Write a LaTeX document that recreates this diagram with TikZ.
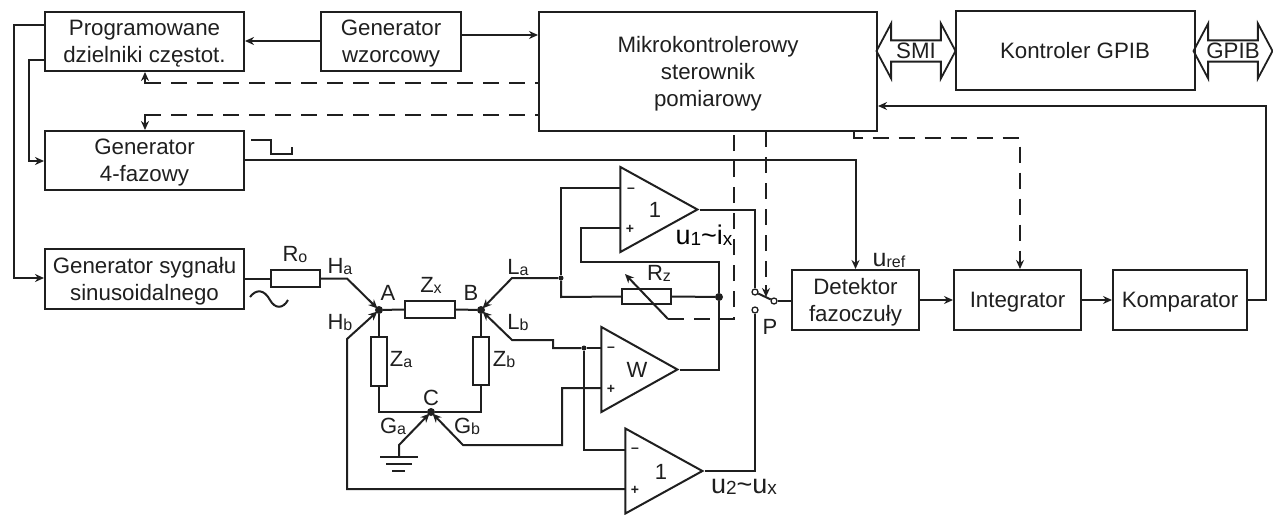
\documentclass[tikz,border=0pt]{standalone}
\usepackage{fontspec}
\setmainfont{Liberation Sans}
\usetikzlibrary{calc,arrows.meta,shapes.geometric,shapes.arrows}
\definecolor{ink}{gray}{0.12}
\newcommand{\lowtext}[2]{#1{\fontsize{16}{16}\selectfont\raisebox{-1pt}{#2}}}
\newcommand{\bigtext}[2]{#1{\fontsize{19}{19}\selectfont\raisebox{-1pt}{#2}}}
\tikzstyle{block}  = [rectangle, draw=ink, line width=2pt, inner sep=0pt, align=center, text=ink, text depth=0pt]
\tikzstyle{res}    = [rectangle, draw=ink, line width=1.8pt, inner sep=0pt]
\tikzstyle{joint}  = [circle, fill=ink, inner sep=0pt, minimum size=8pt]
\tikzstyle{smalldot} = [circle, fill=ink, inner sep=0pt, minimum size=5pt]
\tikzstyle{contact} = [circle, draw=ink, fill=white, line width=1.3pt, inner sep=0pt, minimum size=6pt]
\tikzstyle{lab}    = [inner sep=0pt, text=ink, font=\fontsize{22}{22}\selectfont]
\tikzstyle{biglab} = [inner sep=0pt, text=ink, font=\fontsize{27}{27}\selectfont]
\tikzstyle{sgn}    = [inner sep=0pt, text=ink, font=\fontsize{14}{14}\selectfont\bfseries]
\tikzstyle{amp}    = [isosceles triangle, isosceles triangle stretches, draw=ink, line width=2pt, inner sep=0pt,
                      shape border rotate=0, minimum width=85pt]
\tikzstyle{bus}    = [double arrow, draw=ink, line width=1.8pt, inner sep=0pt, double arrow head extend=14pt,
                      double arrow tip angle=124, minimum width=55pt, text=ink]
\tikzstyle{arrow}  = [line width=2pt, draw=ink, -{Stealth[length=9pt,width=8pt]}]
\tikzstyle{wire}   = [line width=2pt, draw=ink]
\tikzstyle{dashwire} = [line width=2pt, draw=ink, dash pattern=on 16pt off 10pt]

\begin{document}
\begin{tikzpicture}[x=1pt,y=-1pt,font=\fontsize{22.3}{27}\selectfont]
    \useasboundingbox (0,0) rectangle (1273,514);

    % blocks
    \node[block, minimum width=199pt, minimum height=59pt] (prog) at (144.5,41.5) {Programowane\\dzielniki częstot.};
    \node[block, minimum width=140pt, minimum height=59pt] (wzor) at (391,41.5) {Generator\\wzorcowy};
    \node[block, minimum width=338pt, minimum height=119pt] (mikro) at (708,71) {Mikrokontrolerowy\\sterownik\\pomiarowy};
    \node[block, minimum width=239pt, minimum height=79pt] (gpib) at (1075,50.5) {Kontroler GPIB};
    \node[block, minimum width=199pt, minimum height=59pt] (faz) at (144.5,160.5) {Generator\\4-fazowy};
    \node[block, minimum width=199pt, minimum height=60pt] (sin) at (144.5,279) {Generator sygnału\\sinusoidalnego};
    \node[block, minimum width=127pt, minimum height=60pt] (det) at (855.5,300) {Detektor\\fazoczuły};
    \node[block, minimum width=127pt, minimum height=60pt] (integ) at (1017.5,300) {Integrator};
    \node[block, minimum width=134pt, minimum height=60pt] (komp) at (1180,300) {Komparator};

    % buses
    \node[bus, minimum height=79pt] (smi) at (916,51) {SMI};
    \node[bus, minimum height=79pt] (bgpib) at (1233,51) {GPIB};

    % bridge
    \node[res, minimum width=49pt, minimum height=17pt] (ro) at (295.5,278.5) {};
    \node[res, minimum width=50pt, minimum height=17pt] (zx) at (430,309.5) {};
    \node[res, minimum width=16pt, minimum height=49pt] (za) at (379,361.5) {};
    \node[res, minimum width=16pt, minimum height=48pt] (zb) at (481,361) {};
    \node[res, minimum width=49pt, minimum height=15pt] (rz) at (646.5,296.5) {};
    \node[joint] (a) at (379,310) {};
    \node[joint] (b) at (481,310) {};
    \node[joint] (c) at (431,412) {};
    \node[smalldot] (nla) at (561,278) {};
    \node[joint] (nrz) at (719,297) {};
    \node[smalldot] (nlb) at (584,348) {};

    % amplifiers
    \node[amp, minimum height=77pt, anchor=apex] (ampa) at (700,209.5) {};
    \node[amp, minimum height=76pt, anchor=apex] (ampw) at (680,369.5) {};
    \node[amp, minimum height=77pt, anchor=apex] (ampb) at (705,471) {};
    \node[lab] (ta) at (655,210) {1};
    \node[lab] (tw) at (637,370) {W};
    \node[lab] (tb) at (661,472) {1};
    \node[sgn] (ma) at (631,190) {–};
    \node[sgn] (pa) at (630,229) {+};
    \node[sgn] (mw) at (611,349) {–};
    \node[sgn] (pw) at (611,389) {+};
    \node[sgn] (mb) at (635,450) {–};
    \node[sgn] (pb) at (635,490) {+};
    \coordinate (ina) at (620,188);
    \coordinate (ipa) at (620,228);
    \coordinate (inw) at (601,348);
    \coordinate (ipw) at (601,388);
    \coordinate (inb) at (625,450);
    \coordinate (ipb) at (625,489);

    % switch
    \node[contact] (s1) at (755,292) {};
    \node[contact] (s2) at (755,310) {};
    \node[contact] (s0) at (774,301) {};
    \coordinate (gnd) at (399,457);
    \coordinate (rzarrow) at (625,274);
    \coordinate (swmid) at (766,297);

    % solid connections
    \draw[arrow] (wzor.west |- 0,41) -- (prog.east |- 0,41);
    \draw[arrow] (wzor.east |- 0,35) -- (mikro.west |- 0,35);
    \draw[arrow] (prog.west |- 0,60) -- (29,60) -- (29,161) -- (faz.west |- 0,161);
    \draw[arrow] (prog.west |- 0,25) -- (14,25) -- (14,278) -- (sin.west |- 0,278);
    \draw[arrow] (faz.east |- 0,160) -- (det.north |- 0,160) -- (det.north);
    \draw[arrow] (det.east) -- (integ.west);
    \draw[arrow] (integ.east) -- (komp.west);
    \draw[arrow] (komp.east) -- (1266,300) -- (1266,106) -- (mikro.east |- 0,106);
    \draw[wire] (sin.east |- ro.west) -- (ro.west);
    \draw[arrow, shorten >=-2pt] (ro.east) -- (347,278.5) -- (a);
    \draw[arrow, shorten >=-2pt] (ipb) -- (347,489) -- (347,339) -- (a);
    \draw[wire] (a) -- (zx.west);
    \draw[wire] (zx.east) -- (b);
    \draw[wire] (a) -- (za.north);
    \draw[wire] (b) -- (zb.north);
    \draw[wire] (za.south) -- (379,412) -- (c);
    \draw[wire] (zb.south) -- (481,412) -- (c);
    \draw[arrow, shorten >=-2pt] (gnd) -- (399,445) -- (c);
    \draw[arrow, shorten >=-2pt] (ipw) -- (562,388) -- (562,445) -- (463,445) -- (c);
    \draw[arrow, shorten >=-2pt] (nla) -- (512,278) -- (b);
    \draw[arrow, shorten >=-2pt] (nlb) -- (553,348) -- (553,340) -- (512,340) -- (b);
    \draw[wire] (nlb) -- (inw);
    \draw[wire] (nlb) -- (584,450) -- (inb);
    \draw[wire] (ina) -- (561,188) -- (nla);
    \draw[wire] (nla) -- (561,297) -- (rz.west);
    \draw[wire] (rz.east) -- (nrz);
    \draw[wire] (ipa) -- (581,228) -- (581,262) -- (719,262) -- (nrz);
    \draw[wire] (nrz) -- (719,369.5) -- (ampw.apex);
    \draw[wire] (ampa.apex) -- (755,209.5) -- (s1);
    \draw[wire] (ampb.apex) -- (755,471) -- (s2);
    \draw[wire] (s1) -- (s0);
    \draw[wire] (s0) -- (det.west |- s0);

    % ground
    \draw[wire] (380,457) -- (418,457);
    \draw[wire] (386,464) -- (412,464);
    \draw[wire] (392,471) -- (405,471);

    % dashed control lines
    \draw[dashwire] (145,83) -- (mikro.west |- 0,83);
    \draw[arrow] (157,83) -- (145,83) -- (prog.south -| 145,0);
    \draw[dashwire] (145,115) -- (mikro.west |- 0,115);
    \draw[arrow] (157,115) -- (145,115) -- (faz.north -| 145,0);
    \draw[dashwire] (668,319) -- (734,319) -- (734,131);
    \draw[arrow] (668,319) -- (rzarrow);
    \draw[dashwire, line width=1.4pt] (766,131) -- (766,285);
    \draw[arrow, line width=1.4pt] (766,285) -- (swmid);
    \draw[dashwire] (853.5,131) -- (853.5,138) -- (1020,138) -- (1020,262);
    \draw[arrow] (1020,258) -- (integ.north -| 1020,0);

    % pulse and sine
    \draw[wire] (251,140) -- (271,140) -- (271,154) -- (292,154) -- (292,147);
    \draw[wire] (250,297) .. controls (256,289) and (264,289) .. (270,300) .. controls (275,309) and (283,309) .. (288,300);

    % labels
    \node[lab] (lro) at (295,255) {\lowtext{R}{o}};
    \node[lab] (lha) at (340,267) {\lowtext{H}{a}};
    \node[lab] (lhb) at (340,323) {\lowtext{H}{b}};
    \node[lab] (lzx) at (431,285) {\lowtext{Z}{x}};
    \node[lab] (la) at (388,293) {A};
    \node[lab] (lb) at (471,293) {B};
    \node[lab] (lla) at (518,268) {\lowtext{L}{a}};
    \node[lab] (llb) at (518,323) {\lowtext{L}{b}};
    \node[lab] (lza) at (401,360) {\lowtext{Z}{a}};
    \node[lab] (lzb) at (504,360) {\lowtext{Z}{b}};
    \node[lab] (lc) at (431,398) {C};
    \node[lab] (lga) at (393,426) {\lowtext{G}{a}};
    \node[lab] (lgb) at (467,426) {\lowtext{G}{b}};
    \node[lab] (lrz) at (659,273) {\lowtext{R}{z}};
    \node[lab] (lp) at (770,327) {P};
    \node[lab, font=\fontsize{25}{25}\selectfont] (luref) at (889,260) {\lowtext{u}{ref}};
    \node[biglab, text=black] (lua) at (704,235) {\bigtext{u}{1}\char`~\bigtext{i}{x}};
    \node[biglab] (lub) at (744,487) {\bigtext{u}{2}\char`~\bigtext{u}{x}};
\end{tikzpicture}
\end{document}
